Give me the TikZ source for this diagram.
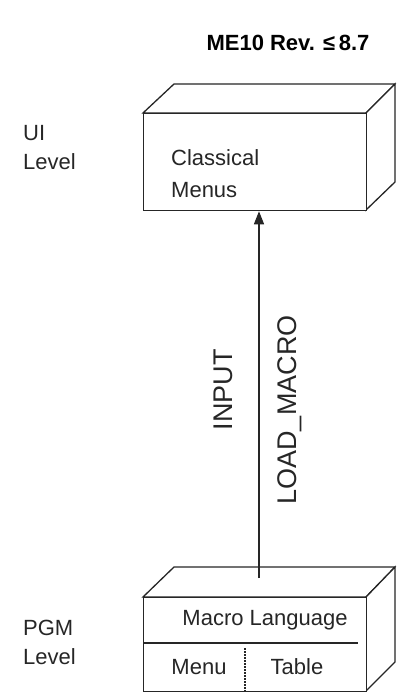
\documentclass[tikz,border=0pt]{standalone}
\usepackage{fontspec}
\setmainfont{Liberation Sans}
\usetikzlibrary{arrows.meta,calc}
\tikzset{
  edge/.style={line width=1.3pt, draw=black!85},
  lbl/.style={font=\fontsize{22}{26}\selectfont, text=black!85, inner sep=0pt},
  lbll/.style={lbl, anchor=west},
  rot/.style={font=\fontsize{27}{32}\selectfont, text=black!85, inner sep=0pt, rotate=90},
  face/.style={edge, fill=white},
}
\begin{document}
\begin{tikzpicture}[x=1pt,y=-1pt]
\useasboundingbox (0,0) rectangle (396,692);
\clip (0,0) rectangle (396,692);
% title
\node[font=\bfseries\fontsize{22}{26}\selectfont, inner sep=0pt] (title) at (288,43) {ME10 Rev. ≤\,8.7};
% left labels
\node[lbll] (ui) at (23,133) {UI};
\node[lbll] (uilevel) at (23,162) {Level};
\node[lbll] (pgm) at (23,628) {PGM};
\node[lbll] (pgmlevel) at (23,657) {Level};
% top box
\draw[face] (143,113) -- (174,84) -- (395,84) -- (366,113) -- cycle;
\draw[face] (366,113) -- (395,84) -- (395,182) -- (366,210) -- cycle;
\node[face, minimum width=223pt, minimum height=97pt, anchor=north west, inner sep=0pt] (topfront) at (143,113) {};
\node[lbll] (classical) at (171,158) {Classical};
\node[lbll] (menus) at (171,190) {Menus};
% bottom box
\draw[face] (143,597) -- (174,567) -- (395,567) -- (366,597) -- cycle;
\draw[face] (366,597) -- (395,567) -- (395,662) -- (366,691) -- cycle;
\node[face, minimum width=223pt, minimum height=94pt, anchor=north west, inner sep=0pt] (botfront) at (143,597) {};
\draw[edge] (143,643) -- (358,643);
\draw[line width=1.1pt, draw=black!85, dash pattern=on 1.5pt off 1.5pt] (245,648) -- (245,692);
\node[lbl] (macro) at (265,620) {Macro Language};
\node[lbl] (menu) at (199,667) {Menu};
\node[lbl] (table) at (297,667) {Table};
% connector
\coordinate (astart) at (259,578);
\draw[edge, -{Triangle[length=13pt,width=10pt]}] (astart) -- (astart |- topfront.south);
\node[rot] (input) at (223,390) {INPUT};
\node[rot] (loadmacro) at (290,410) {LOAD\_MACRO};
\end{tikzpicture}
\end{document}
